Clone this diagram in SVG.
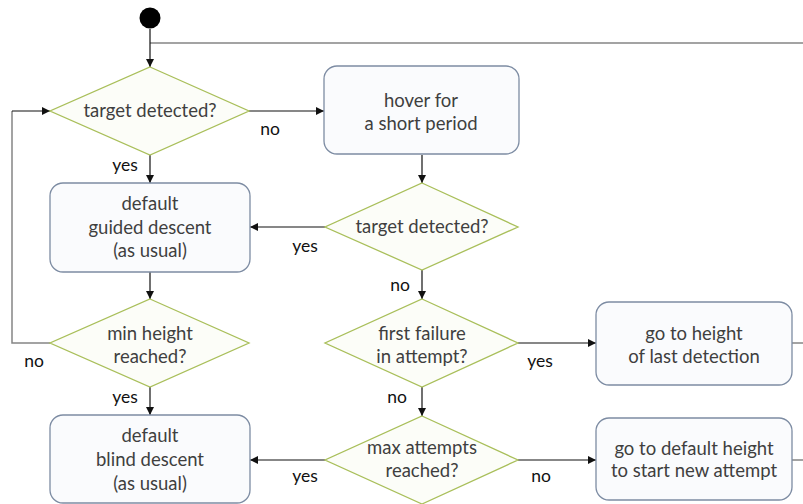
<svg xmlns="http://www.w3.org/2000/svg" width="803" height="504" viewBox="0 0 803 504">
  <style>
    .box { fill: #fafbfd; stroke: #7d8ca3; stroke-width: 1.3; }
    .dia { fill: #fcfdf8; stroke: #a9bf5a; stroke-width: 1.3; }
    .txt { font-family: Lato, "Open Sans", sans-serif; font-size: 18.5px; fill: #3f3f3f; text-anchor: middle; }
    .lbl { font-family: Lato, "Open Sans", sans-serif; font-size: 17.5px; fill: #111; text-anchor: middle; }
    .edge { fill: none; stroke: #111; stroke-width: 1.2; }
    .back { fill: none; stroke: #858585; stroke-width: 1.5; }
  </style>
  <defs>
    <marker id="arrow" viewBox="0 0 10 10" refX="10" refY="5" markerWidth="8" markerHeight="8" markerUnits="userSpaceOnUse" orient="auto">
      <path d="M0,0 L10,5 L0,10 z" fill="#111"/>
    </marker>
  </defs>

  <rect width="803" height="504" fill="#ffffff"/>

  <!-- connectors -->
  <g id="connectors">
    <path class="back" d="M150,43 H803"/>
    <path class="back" d="M50,343 H12 V111"/>
    <path class="edge" d="M12,111 H50" marker-end="url(#arrow)"/>
    <path class="back" d="M792,343 H803"/>
    <path class="back" d="M792,460 H803"/>
    <path class="edge" d="M150,29 V67" marker-end="url(#arrow)"/>
    <path class="edge" d="M249,111 H324" marker-end="url(#arrow)"/>
    <path class="edge" d="M150,155 V183" marker-end="url(#arrow)"/>
    <path class="edge" d="M422,155 V183" marker-end="url(#arrow)"/>
    <path class="edge" d="M325,227 H250" marker-end="url(#arrow)"/>
    <path class="edge" d="M150,272 V299" marker-end="url(#arrow)"/>
    <path class="edge" d="M422,270 V299" marker-end="url(#arrow)"/>
    <path class="edge" d="M150,387 V415" marker-end="url(#arrow)"/>
    <path class="edge" d="M518,343 H596" marker-end="url(#arrow)"/>
    <path class="edge" d="M422,387 V416" marker-end="url(#arrow)"/>
    <path class="edge" d="M325,460 H250" marker-end="url(#arrow)"/>
    <path class="edge" d="M518,460 H596" marker-end="url(#arrow)"/>

    <text class="lbl" x="270" y="135">no</text>
    <text class="lbl" x="125" y="171">yes</text>
    <text class="lbl" x="305" y="252">yes</text>
    <text class="lbl" x="400" y="291">no</text>
    <text class="lbl" x="34" y="367">no</text>
    <text class="lbl" x="125" y="403">yes</text>
    <text class="lbl" x="540" y="367">yes</text>
    <text class="lbl" x="397" y="403">no</text>
    <text class="lbl" x="305" y="482">yes</text>
    <text class="lbl" x="541" y="482">no</text>
  </g>

  <g id="start">
    <circle cx="150" cy="18" r="10.5" fill="#000"/>
  </g>

  <g id="check-target-1">
    <polygon class="dia" points="150,67 249,111 150,155 50,111"/>
    <text class="txt" x="150" y="117">target detected?</text>
  </g>

  <g id="hover">
    <rect class="box" x="324" y="66" width="195" height="88" rx="13"/>
    <text class="txt" x="421" y="107">hover for</text>
    <text class="txt" x="421" y="130">a short period</text>
  </g>

  <g id="guided-descent">
    <rect class="box" x="50" y="183" width="200" height="89" rx="13"/>
    <text class="txt" x="150" y="210">default</text>
    <text class="txt" x="150" y="234">guided descent</text>
    <text class="txt" x="150" y="257">(as usual)</text>
  </g>

  <g id="check-target-2">
    <polygon class="dia" points="422,183 518,227 422,270 325,227"/>
    <text class="txt" x="422" y="233">target detected?</text>
  </g>

  <g id="check-min-height">
    <polygon class="dia" points="150,299 249,343 150,387 50,343"/>
    <text class="txt" x="150" y="340">min height</text>
    <text class="txt" x="150" y="363">reached?</text>
  </g>

  <g id="check-first-failure">
    <polygon class="dia" points="422,299 518,343 422,387 325,343"/>
    <text class="txt" x="422" y="340">first failure</text>
    <text class="txt" x="422" y="363">in attempt?</text>
  </g>

  <g id="last-detection-height">
    <rect class="box" x="596" y="302" width="196" height="83" rx="13"/>
    <text class="txt" x="694" y="340">go to height</text>
    <text class="txt" x="694" y="363">of last detection</text>
  </g>

  <g id="blind-descent">
    <rect class="box" x="50" y="415" width="200" height="88" rx="13"/>
    <text class="txt" x="150" y="442">default</text>
    <text class="txt" x="150" y="466">blind descent</text>
    <text class="txt" x="150" y="490">(as usual)</text>
  </g>

  <g id="check-max-attempts">
    <polygon class="dia" points="422,416 518,460 422,504 325,460"/>
    <text class="txt" x="422" y="454">max attempts</text>
    <text class="txt" x="422" y="477">reached?</text>
  </g>

  <g id="new-attempt">
    <rect class="box" x="596" y="418" width="196" height="82" rx="13"/>
    <text class="txt" x="694" y="455">go to default height</text>
    <text class="txt" x="694" y="477">to start new attempt</text>
  </g>
</svg>
